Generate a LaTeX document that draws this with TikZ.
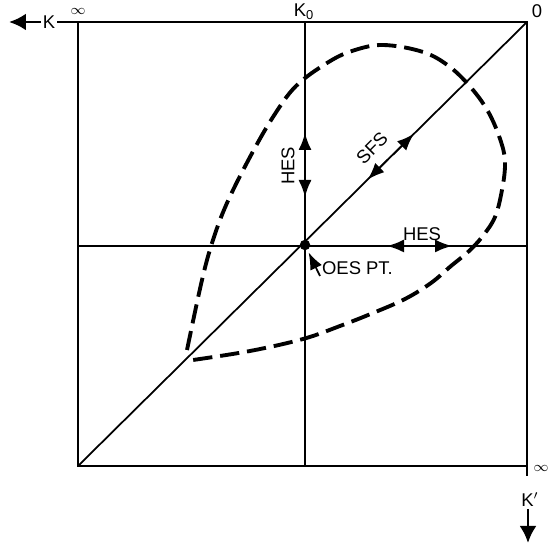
\documentclass[tikz,border=0pt]{standalone}
\usepackage{fontspec}
\setmainfont{Liberation Sans}
\usetikzlibrary{arrows.meta, positioning, calc}

\begin{document}
\begin{tikzpicture}[x=0.02cm, y=-0.02cm,
  frame/.style={line width=1.6pt},
  axis/.style={line width=1pt},
  tip/.style={-{Latex[length=3.4mm, width=2.6mm]}, line width=1pt},
  bigtip/.style={-{Latex[length=3.4mm, width=3.4mm]}, line width=1.6pt},
  lab/.style={font=\fontsize{10.5}{12}\selectfont, inner sep=1pt},
  inf/.style={font=\footnotesize, inner sep=0pt},
  loop/.style={line width=2.2pt, dash pattern=on 11pt off 4.5pt}]
\useasboundingbox (0,0) rectangle (548,546);
% frame corners
\coordinate (tl) at (78,22); \coordinate (tr) at (527,22);
\coordinate (bl) at (78,466); \coordinate (br) at (527,466);
\coordinate (kend) at (9,22); \coordinate (kptop) at (527,476);
\coordinate (kpend) at (528,543);
\node[lab] (k) at (49,22) {K};
\node[inf] (kinf) at (78,11) {$\infty$};
\node[lab] (k0) at (304,12) {K\textsubscript{0}};
\node[lab] (zero) at (537,11) {0};
\node[inf] (kpinf) at (541,468) {$\infty$};
\node[lab] (kp) at (530,500) {K$'$};
\draw[frame] (k) -- (tr) -- (kptop);
\draw[frame] (tl) -- (bl) -- (br);
\draw[bigtip] (k) -- (kend);
\draw[bigtip] (kp.south -| kpend) -- (kpend);
% axes and diagonal
\coordinate (ktop) at (305,22); \coordinate (kbot) at (305,466);
\coordinate (hl) at (78,246); \coordinate (hr) at (527,246);
\draw[axis] (ktop) -- (kbot);
\draw[axis] (hl) -- (hr);
\draw[axis] (bl) -- (tr);
\node[circle, fill, inner sep=0pt, minimum size=0.21cm] (oes) at (305,245) {};
% HES / SFS arrows
\coordinate (hv) at (305,165); \coordinate (hh) at (420,246);
\draw[tip] (hv) -- ++(0,-32);
\draw[tip] (hv) -- ++(0,32);
\draw[tip] (hh) -- ++(-33,0);
\draw[tip] (hh) -- ++(32,0);
\draw[tip] ($(bl)!0.70!(tr)$) -- ($(bl)!0.748!(tr)$);
\draw[tip] ($(bl)!0.69!(tr)$) -- ($(bl)!0.645!(tr)$);
\node[lab, rotate=90] (hesv) at (288,166) {HES};
\node[lab] (hesh) at (422,234) {HES};
\node[lab, rotate=45] (sfs) at (372,148) {SFS};
\node[lab, anchor=west] (oeslab) at (320,268) {OES PT.};
\draw[tip, shorten >=1.5pt] ($(oeslab.west)+(0,8)$) -- (oes);
% dashed loop
\draw[loop] plot[smooth, tension=0.6] coordinates {(187,350) (202,280) (213,240)
  (227,203) (250,157) (273,117) (296,86) (327,63) (352,51) (383,45) (423,52)
  (450,67) (473,90) (490,115) (502,145) (505,165) (502,190) (495,217) (482,237)
  (468,252) (451,266) (431,283) (405,299) (373,313) (340,326) (303,339)
  (250,351) (193,360)};
\end{tikzpicture}
\end{document}
